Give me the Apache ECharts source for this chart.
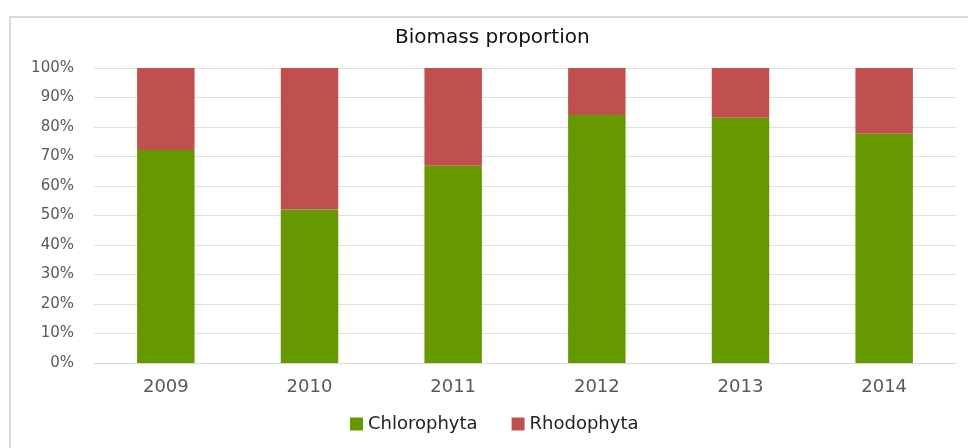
<!DOCTYPE html>
<html>
<head>
<meta charset="utf-8">
<script src="https://cdn.jsdelivr.net/npm/echarts@6/dist/echarts.min.js"></script>
<style>
  html, body { margin: 0; padding: 0; background: #fff; }
  #chart { width: 968px; height: 448px; }
</style>
</head>
<body>
<div id="chart"></div>
<script>
  // data (percent)
  var years = ['2009', '2010', '2011', '2012', '2013', '2014'];
  var chlorophyta = [72.2, 52.0, 66.9, 84.1, 83.1, 77.7];
  var rhodophyta = [27.8, 48.0, 33.1, 15.9, 16.9, 22.3];
  var yTicks = [0, 10, 20, 30, 40, 50, 60, 70, 80, 90, 100];

  var chart = echarts.init(document.getElementById('chart'));
  var font = '"DejaVu Sans", Verdana, sans-serif';

  var option = {
    backgroundColor: '#ffffff',
    animation: false,
    graphic: [{
      type: 'rect',
      shape: { x: 10, y: 17, width: 970, height: 440 },
      style: { fill: 'none', stroke: '#d9d9d9', lineWidth: 2 },
      silent: true
    }],
    title: {
      text: 'Biomass proportion',
      left: 390,
      top: 23,
      textStyle: { fontFamily: font, fontWeight: 'normal', fontSize: 20, color: '#111' }
    },
    legend: {
      bottom: 10,
      left: 345,
      itemWidth: 13,
      itemHeight: 13,
      itemGap: 34,
      icon: 'rect',
      textStyle: { fontFamily: font, fontSize: 18, color: '#222' },
      data: ['Chlorophyta', 'Rhodophyta']
    },
    grid: { left: 94, right: 12, top: 68, bottom: 85 },
    xAxis: {
      type: 'category',
      data: years,
      axisTick: { show: false },
      axisLine: { lineStyle: { color: '#d9d9d9' } },
      axisLabel: { fontFamily: font, fontSize: 18, color: '#595959', margin: 15 }
    },
    yAxis: {
      type: 'value',
      min: yTicks[0],
      max: yTicks[yTicks.length - 1],
      interval: 10,
      axisLine: { show: false },
      axisTick: { show: false },
      splitLine: { lineStyle: { color: '#e0e0e0', width: 1 } },
      axisLabel: { fontFamily: font, fontSize: 15, color: '#595959', margin: 20, formatter: '{value}%' }
    },
    series: [
      {
        name: 'Chlorophyta',
        type: 'bar',
        stack: 'total',
        barWidth: '40%',
        itemStyle: { color: '#669900' },
        data: chlorophyta
      },
      {
        name: 'Rhodophyta',
        type: 'bar',
        stack: 'total',
        barWidth: '40%',
        itemStyle: { color: '#c0504d' },
        data: rhodophyta
      }
    ]
  };

  chart.setOption(option);
</script>
</body>
</html>
